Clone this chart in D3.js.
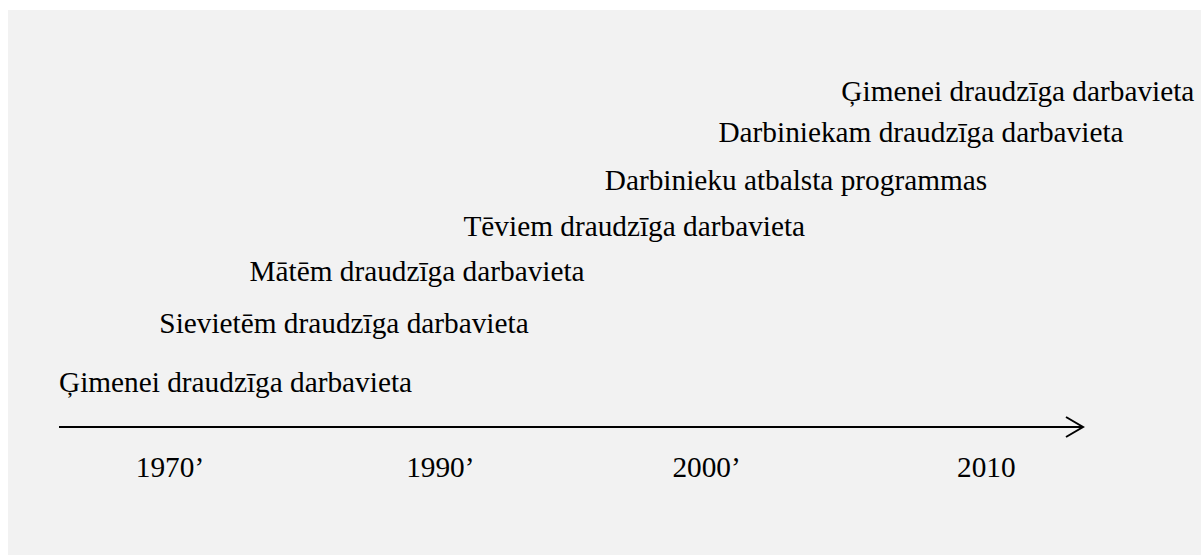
<!DOCTYPE html>
<html>
<head>
<meta charset="utf-8">
<script src="https://cdn.jsdelivr.net/npm/d3@7"></script>
<style>
  html, body { margin: 0; padding: 0; background: #ffffff; }
  svg { display: block; }
  text { font-family: "Liberation Serif", "Times New Roman", serif; fill: #000; }
</style>
</head>
<body>
<svg id="chart"></svg>
<script>
// Full size of the svg element.
const WIDTH = 1201;
const HEIGHT = 555;

const FONT_SIZE = 29.3;

// Timeline stages, from oldest (bottom) to newest (top).
const stages = [
  'Ģimenei draudzīga darbavieta',
  'Sievietēm draudzīga darbavieta',
  'Mātēm draudzīga darbavieta',
  'Tēviem draudzīga darbavieta',
  'Darbinieku atbalsta programmas',
  'Darbiniekam draudzīga darbavieta',
  'Ģimenei draudzīga darbavieta'
];
// Where each stage starts along the time axis (0..100 units).
const stageStart = [0, 9.8, 18.6, 39.5, 53.3, 64.4, 76.4];
// How high each stage sits above the axis (in steps).
const stageLevel = [0, 1.22, 2.29, 3.22, 4.16, 5.15, 6.0];

// Era labels under the axis and where they start (0..100 units).
const eras = ['1970’', '1990’', '2000’', '2010'];
const eraStart = [7.5, 33.9, 59.9, 87.7];

// Time axis runs from 0 to 100 units.
const xScale = d3.scaleLinear().domain([0, 100]).range([59, 1083]);
// Levels map to text baselines.
const yScale = d3.scaleLinear().domain([0, 6]).range([392, 101]);

const AXIS_Y = 427;
const ERA_Y = 477;

const svg = d3.select('#chart').attr('width', WIDTH).attr('height', HEIGHT);

// Grey panel behind everything.
svg.append('rect')
  .attr('x', 8)
  .attr('y', 10)
  .attr('width', WIDTH - 8)
  .attr('height', HEIGHT - 10)
  .attr('fill', '#f2f2f2');

// Stage labels, stepping up and to the right.
svg.append('g')
  .selectAll('text')
  .data(stages)
  .join('text')
  .attr('x', (_, i) => xScale(stageStart[i]))
  .attr('y', (_, i) => yScale(stageLevel[i]))
  .attr('font-size', FONT_SIZE)
  .text(d => d);

// Time axis with an open arrow head.
const tip = xScale(100);
svg.append('line')
  .attr('x1', xScale(0))
  .attr('x2', tip)
  .attr('y1', AXIS_Y)
  .attr('y2', AXIS_Y)
  .attr('stroke', '#000')
  .attr('stroke-width', 2);

svg.append('path')
  .attr('d', `M${tip - 17},${AXIS_Y - 10}L${tip},${AXIS_Y}L${tip - 17},${AXIS_Y + 10}`)
  .attr('fill', 'none')
  .attr('stroke', '#000')
  .attr('stroke-width', 2);

// Era labels below the axis.
svg.append('g')
  .selectAll('text')
  .data(eras)
  .join('text')
  .attr('x', (_, i) => xScale(eraStart[i]))
  .attr('y', ERA_Y)
  .attr('font-size', FONT_SIZE)
  .text(d => d);
</script>
</body>
</html>
